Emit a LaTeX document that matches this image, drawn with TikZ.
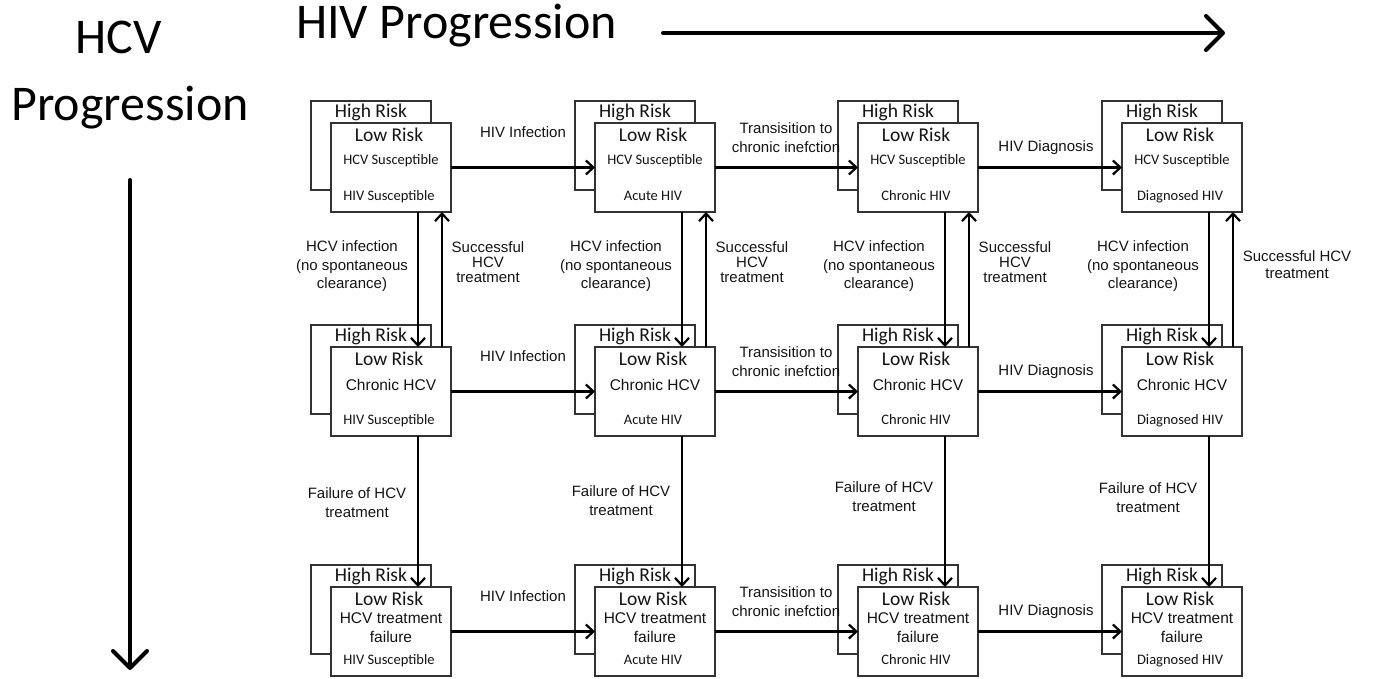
\documentclass[tikz,border=0pt]{standalone}
\usepackage{fontspec}
\setmainfont{Carlito}
\newfontfamily\calibf{Carlito}
\newfontfamily\arialf{Liberation Sans}
\usetikzlibrary{arrows.meta,calc}
\definecolor{boxgray}{HTML}{333333}
\definecolor{txt}{HTML}{141414}
\begin{document}
\begin{tikzpicture}[x=1pt,y=-1pt,
  backbox/.style={draw=boxgray, line width=2.2pt, fill=white, minimum width=120pt, minimum height=89pt, anchor=north west, inner sep=0pt, outer sep=0pt},
  frontbox/.style={draw=boxgray, line width=2.2pt, fill=white, minimum width=120pt, minimum height=89pt, anchor=north west, inner sep=0pt, outer sep=0pt},
  hr/.style={font=\calibf\fontsize{19.5}{22}\selectfont, text=txt, inner sep=0pt},
  sm/.style={font=\calibf\fontsize{14.5}{16}\selectfont, text=txt, inner sep=0pt},
  ar/.style={font=\arialf\fontsize{15.5}{18}\selectfont, text=txt, inner sep=0pt},
  lab/.style={font=\arialf\fontsize{15}{18}\selectfont, text=txt, inner sep=0pt},
  ttl/.style={font=\calibf\fontsize{50}{60}\selectfont, text=black, inner sep=0pt},
  conn/.style={line width=2.2pt, -{Straight Barb[length=7.5pt,width=14pt]}},
  bigarrow/.style={line width=4pt, line cap=round, -{Straight Barb[length=17pt,width=34pt,round]}}
]
\useasboundingbox (0,0) rectangle (1373,678);

% titles
\node[ttl, anchor=base] (tHCV) at (118.5,53) {HCV};
\node[ttl, anchor=base] (tProg) at (130,120) {Progression};
\node[ttl, anchor=base west] (tHIV) at (296,38) {HIV Progression};
\coordinate (hs) at (663,33);
\coordinate (he) at (1225,33);
\draw[bigarrow] (hs) -- (he);
\coordinate (vs) at (130,180);
\coordinate (ve) at (130,670);
\draw[bigarrow] (vs) -- (ve);

% boxes
\foreach \c/\L/\hiv in {1/331/HIV Susceptible,2/595/Acute HIV,3/858/Chronic HIV,4/1122/Diagnosed HIV}{
  \foreach \r/\T in {1/123,2/347,3/587}{
    \node[backbox] (b\c\r) at (\L-20,\T-22) {};
    \node[hr, anchor=base] (bh\c\r) at ($(b\c\r.north)+(0,16)$) {High Risk};
    \node[frontbox] (f\c\r) at (\L,\T) {};
    \node[hr, anchor=base] (fl\c\r) at ($(f\c\r.north)+(-2,18)$) {Low Risk};
    \node[sm, anchor=base] (fv\c\r) at ($(f\c\r.north)+(-2,77)$) {\hiv};
  }
  \node[sm, anchor=base] (fc\c1) at ($(f\c1.north)+(0,41)$) {HCV Susceptible};
  \node[ar, anchor=base] (fc\c2) at ($(f\c2.north)+(0,43)$) {Chronic HCV};
  \node[ar, anchor=base] (fc\c3) at ($(f\c3.north)+(0,36)$) {HCV treatment};
  \node[ar, anchor=base] (fd\c3) at ($(f\c3.north)+(0,55)$) {failure};
}

% connectors
\foreach \r in {1,2,3}{
  \foreach \c/\n in {1/2,2/3,3/4}{
    \draw[conn] (f\c\r.east) -- (f\n\r.west);
  }
}
\foreach \c in {1,2,3,4}{
  \draw[conn] ($(f\c1.south west)+(87,0)$) -- ($(f\c2.north west)+(87,0)$);
  \draw[conn] ($(f\c2.south west)+(87,0)$) -- ($(f\c3.north west)+(87,0)$);
  \draw[conn] ($(f\c2.north west)+(111,0)$) -- ($(f\c1.south west)+(111,0)$);
}

% horizontal labels
\foreach \r/\T in {1/123,2/347,3/587}{
  \node[lab, anchor=base] (hi\r) at (523,\T+14) {HIV Infection};
  \node[lab, anchor=base] (tra\r) at (786,\T+10) {Transisition to};
  \node[lab, anchor=base] (trb\r) at (786,\T+29) {chronic inefction};
  \node[lab, anchor=base] (hd\r) at (1046,\T+28) {HIV Diagnosis};
}

% vertical labels
\foreach \c/\L/\fy in {1/331/498,2/595/496,3/858/492,4/1122/493}{
  \node[lab, anchor=base] (ia\c) at (\L+21,251.5) {HCV infection};
  \node[lab, anchor=base] (ib\c) at (\L+21,270) {(no spontaneous};
  \node[lab, anchor=base] (ic\c) at (\L+21,288.5) {clearance)};
  \node[lab, anchor=base] (fa\c) at (\L+26,\fy) {Failure of HCV};
  \node[lab, anchor=base] (fb\c) at (\L+26,\fy+19) {treatment};
}
\foreach \c/\L in {1/331,2/595,3/858}{
  \node[lab, anchor=base] (sa\c) at (\L+157,252) {Successful};
  \node[lab, anchor=base] (sb\c) at (\L+157,267) {HCV};
  \node[lab, anchor=base] (sc\c) at (\L+157,282) {treatment};
}
\node[lab, anchor=base] (sa4) at (1297,261) {Successful HCV};
\node[lab, anchor=base] (sb4) at (1297,278) {treatment};
\end{tikzpicture}
\end{document}
